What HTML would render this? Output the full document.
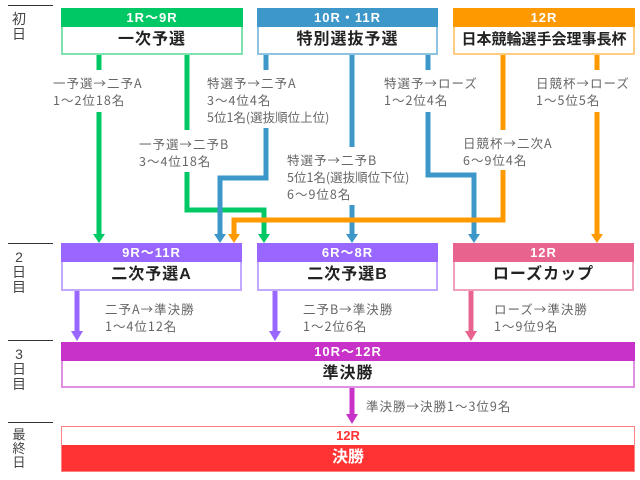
<!DOCTYPE html>
<html><head><meta charset="utf-8"><style>
*{margin:0;padding:0;box-sizing:border-box}
body{width:640px;height:480px;background:#fff;position:relative;overflow:hidden;font-family:"Liberation Sans","Noto Sans CJK JP",sans-serif}
.a{position:absolute}
.box{position:absolute;border:2px solid;background:#fff}
.hd{height:19px;color:#fff;font-weight:bold;font-size:13px;text-align:center;line-height:19px;margin:-2px -2px 0 -2px;letter-spacing:1px}
.bd{text-align:center;font-weight:bold;font-size:16px;color:#222;line-height:26px;letter-spacing:1px}
.lb{position:absolute;font-size:12.5px;color:#666;line-height:17px;white-space:nowrap;font-family:"Noto Sans CJK JP",sans-serif;letter-spacing:1px}
.day{position:absolute;left:8px;width:45px;border-top:1px solid #333}
.dl{position:absolute;left:11px;font-size:14px;color:#444;line-height:15px;width:16px;text-align:center}
</style></head><body>
<div class="day" style="top:5px"></div><div class="dl" style="top:12px">初<br>日</div>
<div class="day" style="top:243px"></div><div class="dl" style="top:250px">2<br>日<br>目</div>
<div class="day" style="top:340px"></div><div class="dl" style="top:347px">3<br>日<br>目</div>
<div class="day" style="top:422px"></div><div class="dl" style="top:428px;font-size:13px;line-height:14px">最<br>終<br>日</div>

<svg class="a" style="left:0;top:0" width="640" height="480">
<g fill="none" stroke-width="5">
<path d="M99 55V70M99 112V236" stroke="#00c864"/>
<path d="M187 55V130M187 172V210H264V236" stroke="#00c864"/>
<path d="M266 55V70M266 128V178H220V236" stroke="#3d97c8"/>
<path d="M352 55V147M352 205V236" stroke="#3d97c8"/>
<path d="M428 55V70M428 112V175H474V236" stroke="#3d97c8"/>
<path d="M503 55V130M503 170V220H234V236" stroke="#ff9900"/>
<path d="M597 55V70M597 112V236" stroke="#ff9900"/>
<path d="M77 291V332M275 291V332" stroke="#9966ff"/>
<path d="M471 291V332" stroke="#e8648f"/>
<path d="M352 388V416" stroke="#c832c8"/>
</g>
<g>
<path d="M93 234H105L99 243Z" fill="#00c864"/>
<path d="M258 234H270L264 243Z" fill="#00c864"/>
<path d="M214 234H226L220 243Z" fill="#3d97c8"/>
<path d="M346 234H358L352 243Z" fill="#3d97c8"/>
<path d="M468 234H480L474 243Z" fill="#3d97c8"/>
<path d="M228 234H240L234 243Z" fill="#ff9900"/>
<path d="M591 234H603L597 243Z" fill="#ff9900"/>
<path d="M71 331H83L77 341Z" fill="#9966ff"/>
<path d="M269 331H281L275 341Z" fill="#9966ff"/>
<path d="M465 331H477L471 341Z" fill="#e8648f"/>
<path d="M346 414H358L352 424Z" fill="#c832c8"/>
</g>
</svg>

<div class="box" style="left:61px;top:8px;width:182px;height:47px;border-color:#7de3ac"><div class="hd" style="background:#00c864">1R～9R</div><div class="bd">一次予選</div></div>
<div class="box" style="left:257px;top:8px;width:181px;height:47px;border-color:#8ec4e2"><div class="hd" style="background:#3d97c8">10R・11R</div><div class="bd">特別選抜予選</div></div>
<div class="box" style="left:453px;top:8px;width:182px;height:47px;border-color:#ffcc80"><div class="hd" style="background:#ff9900">12R</div><div class="bd" style="font-size:15px;letter-spacing:0">日本競輪選手会理事長杯</div></div>

<div class="lb" style="left:53px;top:74px">一予選→二予A<br>1～2位18名</div>
<div class="lb" style="left:207px;top:74px">特選予→二予A<br>3～4位4名<br><span style="letter-spacing:0">5位1名(選抜順位上位)</span></div>
<div class="lb" style="left:139px;top:135px">一予選→二予B<br>3～4位18名</div>
<div class="lb" style="left:287px;top:151px">特選予→二予B<br><span style="letter-spacing:0">5位1名(選抜順位下位)</span><br>6～9位8名</div>
<div class="lb" style="left:384px;top:74px">特選予→ローズ<br>1～2位4名</div>
<div class="lb" style="left:536px;top:74px">日競杯→ローズ<br>1～5位5名</div>
<div class="lb" style="left:463px;top:134px">日競杯→二次A<br>6～9位4名</div>

<div class="box" style="left:61px;top:243px;width:181px;height:48px;border-color:#c2a8ff"><div class="hd" style="background:#9966ff">9R～11R</div><div class="bd">二次予選A</div></div>
<div class="box" style="left:257px;top:243px;width:181px;height:48px;border-color:#c2a8ff"><div class="hd" style="background:#9966ff">6R～8R</div><div class="bd">二次予選B</div></div>
<div class="box" style="left:453px;top:243px;width:181px;height:48px;border-color:#f0a0bc"><div class="hd" style="background:#e8648f">12R</div><div class="bd">ローズカップ</div></div>

<div class="lb" style="left:105px;top:300px">二予A→準決勝<br>1～4位12名</div>
<div class="lb" style="left:303px;top:300px">二予B→準決勝<br>1～2位6名</div>
<div class="lb" style="left:494px;top:300px">ローズ→準決勝<br>1～9位9名</div>

<div class="box" style="left:61px;top:342px;width:574px;height:46px;border-color:#e090e0"><div class="hd" style="background:#c832c8">10R～12R</div><div class="bd">準決勝</div></div>
<div class="lb" style="left:366px;top:397px">準決勝→決勝1～3位9名</div>

<div class="box" style="left:61px;top:426px;width:574px;height:46px;border-color:#ff8080;border-width:1px"><div style="height:18px;color:#ff3333;font-weight:bold;font-size:13px;text-align:center;line-height:18px">12R</div><div style="background:#ff3333;color:#fff;font-weight:bold;font-size:16px;text-align:center;line-height:26px;height:26px">決勝</div></div>
</body></html>
